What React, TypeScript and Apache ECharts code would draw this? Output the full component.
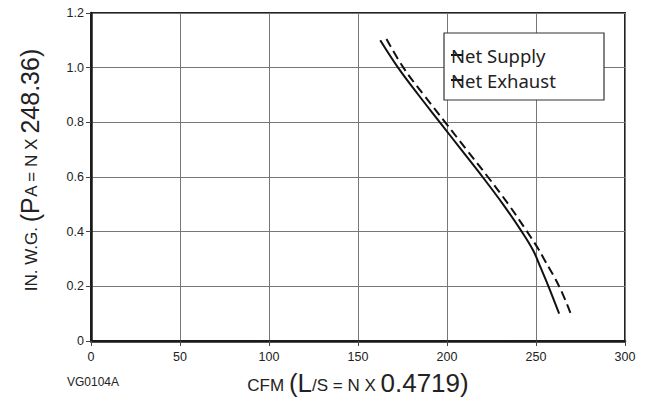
import React, { useEffect, useRef } from "react";
import * as echarts from "echarts";

const supplyCfm = [162.5, 172.5, 184, 196, 208, 220, 231.5, 242, 248.5, 252.5, 257, 263];
const supplyPressure = [1.1, 1.0, 0.9, 0.8, 0.7, 0.6, 0.5, 0.4, 0.33, 0.27, 0.2, 0.1];
const exhaustCfm = [166, 175.5, 187, 199, 211, 223, 234.5, 245, 251, 254.5, 263, 269.5];
const exhaustPressure = [1.105, 1.0, 0.9, 0.8, 0.7, 0.6, 0.5, 0.4, 0.34, 0.3, 0.2, 0.1];
const seriesNames = ["Net Supply", "Net Exhaust"];
const yTickValues = [0, 0.2, 0.4, 0.6, 0.8, 1.0, 1.2];
const yTickLabels = ["0", "0.2", "0.4", "0.6", "0.8", "1.0", "1.2"];
const figureCode = "VG0104A";

const FONT = "'Liberation Sans', Arial, sans-serif";

export default function App() {
  const ref = useRef<HTMLDivElement>(null);
  useEffect(() => {
    if (!ref.current) return;
    const chart = echarts.init(ref.current, null, { renderer: "svg" });
    const pair = (xs: number[], ys: number[]) => xs.map((x, i) => [x, ys[i]]);
    const mk = (size: number, pad: number) => ({
      fontSize: size,
      fontFamily: FONT,
      color: "#222",
      verticalAlign: "bottom",
      lineHeight: 28,
      padding: [0, 0, pad, 0],
    });
    chart.setOption({
      animation: false,
      backgroundColor: "#fff",
      grid: {
        left: 91,
        right: 21,
        top: 13,
        bottom: 61,
        show: true,
        borderColor: "#222",
        borderWidth: 2,
        backgroundColor: "transparent",
      },
      legend: {
        data: seriesNames,
        orient: "vertical",
        left: 444,
        top: 33,
        padding: [11, 13, 9, 7],
        itemWidth: 12,
        itemHeight: 2,
        itemGap: 3,
        icon: "rect",
        backgroundColor: "#fff",
        borderColor: "#333",
        borderWidth: 1.2,
        borderRadius: 0,
        itemStyle: { color: "#111" },
        textStyle: {
          fontSize: 18.5,
          fontFamily: "'Noto Sans', 'Open Sans', sans-serif",
          color: "#222",
          lineHeight: 22,
          padding: [0, 0, 0, -17],
          width: 140,
        },
      },
      xAxis: {
        type: "value",
        min: 0,
        max: 300,
        interval: 50,
        name: "{s|CFM }{b|(L}{s|/S = N X }{b|0.4719)}",
        nameLocation: "middle",
        nameGap: 27,
        nameTextStyle: {
          rich: { s: mk(17, 2), b: mk(26, 0) },
        },
        axisLine: { show: true, lineStyle: { color: "#1a1a1a", width: 2.5 } },
        axisTick: { show: true, length: 5, lineStyle: { color: "#444", width: 1 } },
        axisLabel: { margin: 9, fontSize: 12.5, fontFamily: FONT, color: "#222" },
        splitLine: { show: true, lineStyle: { color: "#777", width: 1 } },
      },
      yAxis: {
        type: "value",
        min: 0,
        max: 1.2,
        interval: 0.2,
        name: "{s|IN. W.G. }{b|(P}{s|A = N X }{b|248.36)}",
        nameLocation: "middle",
        nameRotate: 90,
        nameGap: 49,
        nameTextStyle: {
          padding: [0, 0, 0, 14],
          rich: { s: mk(17, 2), b: mk(25, 0) },
        },
        axisLine: { show: true, lineStyle: { color: "#1a1a1a", width: 2.5 } },
        axisTick: { show: true, length: 5, lineStyle: { color: "#444", width: 1 } },
        axisLabel: {
          margin: 7,
          fontSize: 12.5,
          fontFamily: FONT,
          color: "#222",
          formatter: (v: number) => {
            const i = yTickValues.findIndex((t) => Math.abs(t - v) < 1e-6);
            return i >= 0 ? yTickLabels[i] : String(v);
          },
        },
        splitLine: { show: true, lineStyle: { color: "#777", width: 1 } },
      },
      series: [
        {
          name: seriesNames[0],
          type: "line",
          data: pair(supplyCfm, supplyPressure),
          smooth: 0.4,
          symbol: "none",
          itemStyle: { color: "#111" },
          lineStyle: { color: "#111", width: 2 },
          z: 3,
        },
        {
          name: seriesNames[1],
          type: "line",
          data: pair(exhaustCfm, exhaustPressure),
          smooth: 0.4,
          symbol: "none",
          itemStyle: { color: "#111" },
          lineStyle: { color: "#111", width: 2, type: [9, 5] },
          z: 3,
        },
      ],
      graphic: [
        {
          type: "text",
          left: 67,
          top: 376,
          style: { text: figureCode, fontSize: 12, fontFamily: FONT, fill: "#222" },
        },
      ],
    });
    return () => chart.dispose();
  }, []);
  return (
    <div
      ref={ref}
      style={{ position: "fixed", left: 0, top: 0, width: 646, height: 402, background: "#fff" }}
    />
  );
}
